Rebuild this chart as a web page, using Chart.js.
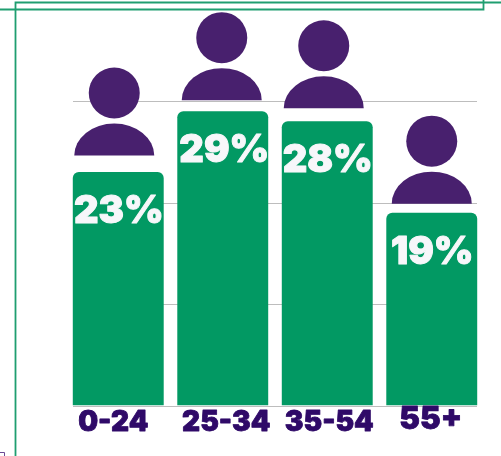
<!DOCTYPE html>
<html lang="en">
<head>
    <meta charset="UTF-8">
    <title>Age groups</title>
    <script src="https://cdn.jsdelivr.net/npm/chart.js"></script>
    <style>
        html, body { margin: 0; padding: 0; background: #fff; overflow: hidden; }
        #wrap { position: relative; width: 501px; height: 456px; }
    </style>
</head>
<body>
    <div id="wrap"><canvas id="ageChart" width="501" height="456"></canvas></div>
    <script>
        const ageGroups = ['0-24', '25-34', '35-54', '55+'];
        const shares = [23, 29, 28, 19];
        const yTicks = [0, 10, 20, 30];

        const GREEN = '#029963';
        const PURPLE = '#48206e';
        const LABEL_PURPLE = '#2f0a68';
        const FONT = 'Inter, sans-serif';

        // hand placed nudges, the people and labels are not quite centred in the original
        const iconNudge = [-4, -1, -3.5, 0];
        const iconGap = [16.5, 11, 13, 9];
        const labelNudge = [-5, 3.5, 2, -1];
        const percentNudge = [0.5, 1.5, 0.5, 0.5];

        const decorations = {
            id: 'decorations',
            beforeDatasetsDraw(chart) {
                const ctx = chart.ctx;
                const y = chart.scales.y;
                ctx.save();
                ctx.strokeStyle = '#bdbdbd';
                ctx.lineWidth = 1;
                yTicks.forEach(v => {
                    const py = Math.round(y.getPixelForValue(v)) + 0.5;
                    ctx.beginPath();
                    ctx.moveTo(73, py);
                    ctx.lineTo(477, py);
                    ctx.stroke();
                });
                ctx.restore();
            },
            afterDatasetsDraw(chart) {
                const ctx = chart.ctx;
                const x = chart.scales.x;
                const bars = chart.getDatasetMeta(0).data;
                ctx.save();

                // people on top of the bars
                ctx.fillStyle = PURPLE;
                bars.forEach((bar, i) => {
                    const cx = bar.x + iconNudge[i];
                    const bottom = bar.y - iconGap[i];
                    ctx.beginPath();
                    ctx.ellipse(cx, bottom, 40, 32, 0, Math.PI, 0);
                    ctx.closePath();
                    ctx.fill();
                    ctx.beginPath();
                    ctx.arc(cx, bottom - 62.5, 25.5, 0, Math.PI * 2);
                    ctx.fill();
                });

                // percentages, stroked a little because Inter black is lighter than the original
                ctx.fillStyle = '#f7f7fa';
                ctx.strokeStyle = '#f7f7fa';
                ctx.lineWidth = 1;
                ctx.lineJoin = 'round';
                ctx.textAlign = 'center';
                ctx.textBaseline = 'middle';
                ctx.font = '900 38px ' + FONT;
                bars.forEach((bar, i) => {
                    ctx.fillText(shares[i] + '%', bar.x + percentNudge[i], bar.y + 39.5);
                    ctx.strokeText(shares[i] + '%', bar.x + percentNudge[i], bar.y + 39.5);
                });

                // category labels, 55+ sits higher and larger
                ctx.fillStyle = LABEL_PURPLE;
                ctx.strokeStyle = LABEL_PURPLE;
                ctx.lineWidth = 0.8;
                ageGroups.forEach((g, i) => {
                    const last = i === ageGroups.length - 1;
                    ctx.font = '900 ' + (last ? 31 : 28) + 'px ' + FONT;
                    ctx.fillText(g, x.getPixelForTick(i) + labelNudge[i], last ? 420 : 423);
                    ctx.strokeText(g, x.getPixelForTick(i) + labelNudge[i], last ? 420 : 423);
                });

                // green frame
                ctx.strokeStyle = '#1f9e70';
                ctx.lineWidth = 1.8;
                ctx.lineJoin = 'miter';
                ctx.beginPath();
                ctx.moveTo(15.5, 456);
                ctx.lineTo(15.5, 2.5);
                ctx.lineTo(501, 2.5);
                ctx.moveTo(0, 9.5);
                ctx.lineTo(483.5, 9.5);
                ctx.lineTo(483.5, 0);
                ctx.stroke();

                // corner of the box cut off at the bottom left
                ctx.strokeStyle = '#6b4a94';
                ctx.lineWidth = 1;
                ctx.beginPath();
                ctx.moveTo(0, 452.5);
                ctx.lineTo(4.5, 452.5);
                ctx.lineTo(4.5, 456);
                ctx.stroke();
                ctx.restore();
            }
        };

        new Chart(document.getElementById('ageChart').getContext('2d'), {
            type: 'bar',
            data: {
                labels: ageGroups,
                datasets: [{
                    data: shares,
                    backgroundColor: GREEN,
                    borderRadius: { topLeft: 6, topRight: 6 },
                    borderSkipped: 'bottom',
                    barPercentage: 0.87,
                    categoryPercentage: 1
                }]
            },
            options: {
                responsive: false,
                animation: false,
                layout: { padding: { left: 66, right: 17, top: 101, bottom: 50.5 } },
                plugins: { legend: { display: false }, tooltip: { enabled: false } },
                scales: {
                    x: { display: false },
                    y: { display: false, min: 0, max: 30, ticks: { stepSize: 10 } }
                }
            },
            plugins: [decorations]
        });
    </script>
</body>
</html>
